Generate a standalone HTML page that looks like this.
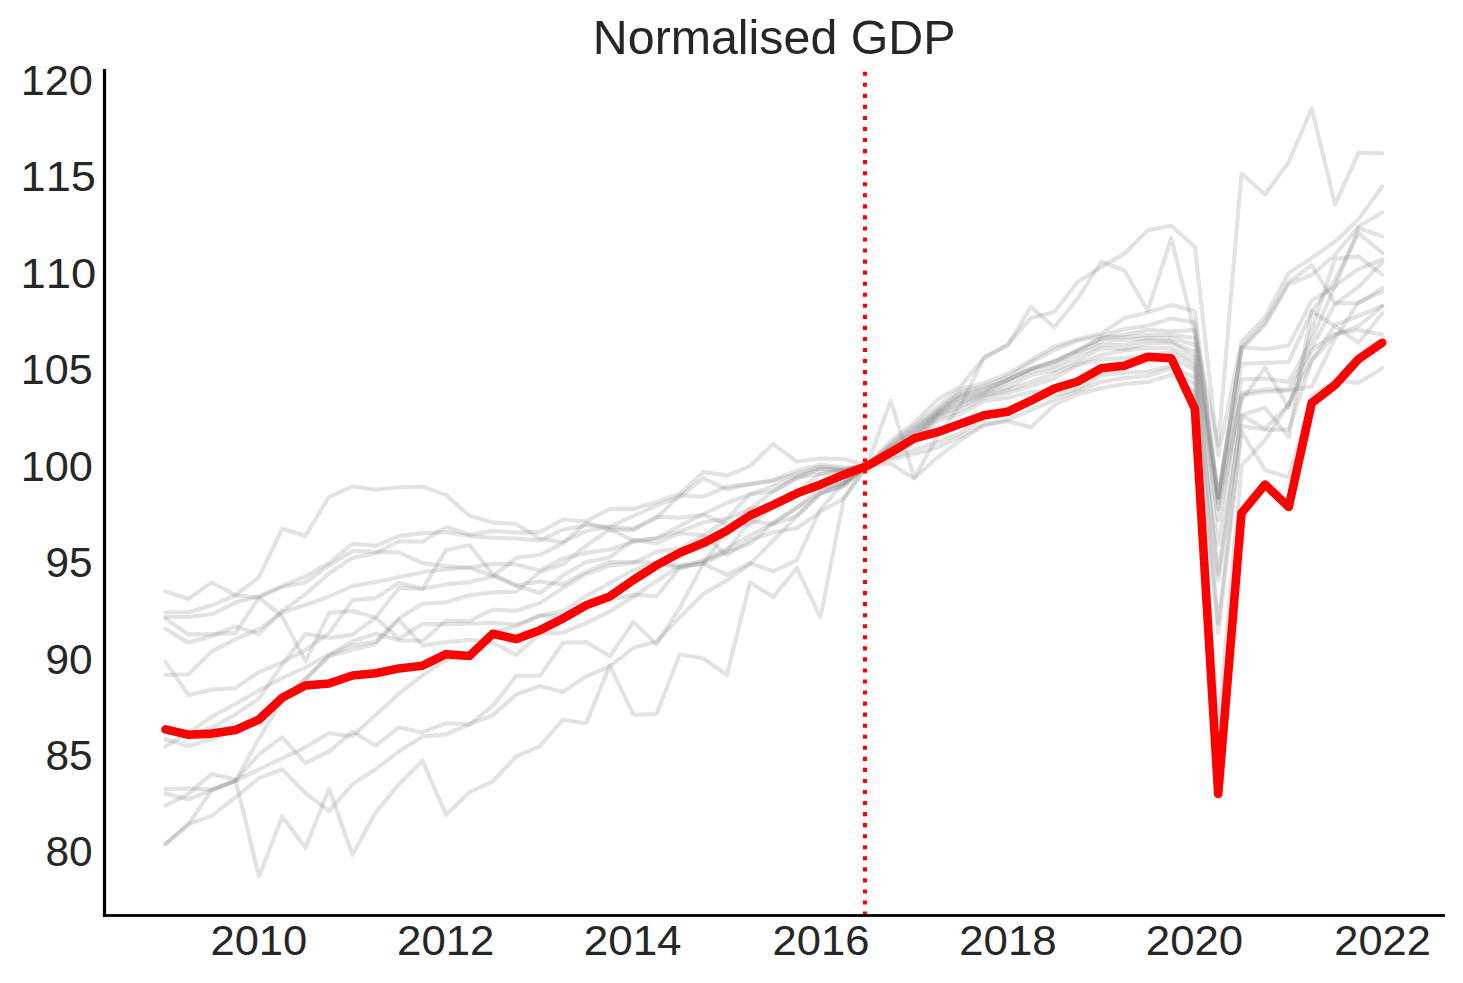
<!DOCTYPE html>
<html><head><meta charset="utf-8"><title>Normalised GDP</title><style>html,body{margin:0;padding:0;background:#fff;overflow:hidden;width:1463px;height:983px;}svg{display:block;}</style></head><body>
<svg width="1463" height="983" viewBox="0 0 1463 983">
<rect width="1463" height="983" fill="#fff"/>
<g fill="none" stroke="#808080" stroke-opacity="0.22" stroke-width="4.1" stroke-linejoin="round" stroke-linecap="round">
<polyline points="165.5,591.4 188.5,599.0 211.8,582.2 235.4,595.4 259.0,597.5 282.1,616.4 305.4,661.4 329.0,612.9 352.5,611.0 375.6,617.6 398.9,638.8 422.5,624.1 446.1,624.1 469.4,623.8 492.7,622.7 516.3,624.8 539.9,615.4 562.9,611.5 586.2,596.0 609.8,583.0 633.4,570.2 656.5,562.9 679.8,565.8 703.4,560.2 726.9,549.0 750.0,535.4 773.3,523.0 796.9,507.7 820.5,488.2 843.8,483.0 867.1,465.5 890.7,400.6 914.3,477.7 937.3,437.0 960.6,405.0 984.2,357.1 1007.8,345.5 1030.9,306.8 1054.2,327.3 1077.8,298.5 1101.3,261.5 1124.4,270.5 1147.7,310.8 1171.3,238.0 1194.9,334.0 1218.2,445.6 1241.5,173.4 1265.1,194.5 1288.7,162.0 1311.7,108.3 1335.0,204.6 1358.6,152.6 1382.2,153.2"/>
<polyline points="165.5,612.5 188.5,612.2 211.8,605.4 235.4,595.4 259.0,577.1 282.1,528.8 305.4,535.8 329.0,496.9 352.5,486.5 375.6,489.8 398.9,487.3 422.5,486.8 446.1,494.9 469.4,515.8 492.7,522.4 516.3,523.9 539.9,538.7 562.9,542.3 586.2,530.9 609.8,526.8 633.4,515.8 656.5,505.7 679.8,496.6 703.4,478.3 726.9,489.3 750.0,484.1 773.3,481.0 796.9,473.8 820.5,466.7 843.8,468.7 867.1,465.5 890.7,441.0 914.3,423.0 937.3,399.8 960.6,386.4 984.2,357.8 1007.8,344.4 1030.9,318.0 1054.2,311.9 1077.8,281.7 1101.3,267.0 1124.4,253.7 1147.7,230.2 1171.3,225.7 1194.9,247.0 1218.2,455.6 1241.5,341.6 1265.1,317.1 1288.7,272.9 1311.7,258.1 1335.0,241.8 1358.6,219.1 1382.2,186.5"/>
<polyline points="165.5,617.0 188.5,617.0 211.8,614.3 235.4,602.6 259.0,596.4 282.1,586.0 305.4,576.4 329.0,563.0 352.5,543.8 375.6,545.8 398.9,536.1 422.5,533.1 446.1,532.1 469.4,536.1 492.7,537.7 516.3,538.5 539.9,540.5 562.9,529.7 586.2,525.2 609.8,526.8 633.4,528.6 656.5,516.7 679.8,517.7 703.4,514.9 726.9,524.1 750.0,525.1 773.3,506.6 796.9,491.3 820.5,488.2 843.8,483.0 867.1,465.5 890.7,444.0 914.3,426.0 937.3,407.0 960.6,389.0 984.2,383.0 1007.8,374.0 1030.9,360.0 1054.2,346.6 1077.8,339.2 1101.3,333.6 1124.4,318.0 1147.7,312.4 1171.3,305.1 1194.9,311.3 1218.2,496.9 1241.5,347.0 1265.1,322.0 1288.7,282.0 1311.7,265.3 1335.0,303.3 1358.6,303.3 1382.2,288.1"/>
<polyline points="165.5,618.6 188.5,634.6 211.8,634.1 235.4,633.1 259.0,597.5 282.1,587.0 305.4,582.5 329.0,565.4 352.5,550.9 375.6,551.9 398.9,552.4 422.5,563.1 446.1,566.1 469.4,567.8 492.7,575.8 516.3,585.6 539.9,581.5 562.9,584.6 586.2,571.6 609.8,562.0 633.4,562.0 656.5,563.0 679.8,568.0 703.4,561.3 726.9,551.0 750.0,521.0 773.3,524.1 796.9,515.9 820.5,493.3 843.8,486.0 867.1,465.5 890.7,445.5 914.3,428.0 937.3,410.0 960.6,392.5 984.2,385.9 1007.8,377.0 1030.9,362.5 1054.2,350.0 1077.8,340.5 1101.3,336.0 1124.4,329.2 1147.7,325.8 1171.3,318.5 1194.9,322.5 1218.2,497.5 1241.5,347.3 1265.1,349.2 1288.7,345.5 1311.7,300.4 1335.0,286.8 1358.6,228.0 1382.2,236.3"/>
<polyline points="165.5,629.0 188.5,642.7 211.8,636.0 235.4,626.5 259.0,634.1 282.1,611.0 305.4,594.4 329.0,573.5 352.5,557.8 375.6,553.4 398.9,541.2 422.5,541.7 446.1,527.0 469.4,534.6 492.7,531.0 516.3,532.6 539.9,532.1 562.9,519.5 586.2,521.2 609.8,508.9 633.4,508.9 656.5,502.0 679.8,493.9 703.4,471.9 726.9,475.6 750.0,466.1 773.3,444.1 796.9,461.5 820.5,458.5 843.8,459.0 867.1,465.5 890.7,447.0 914.3,430.0 937.3,411.5 960.6,394.0 984.2,388.0 1007.8,379.6 1030.9,368.6 1054.2,361.3 1077.8,350.3 1101.3,338.1 1124.4,334.8 1147.7,330.0 1171.3,331.4 1194.9,330.0 1218.2,498.0 1241.5,349.0 1265.1,325.0 1288.7,284.0 1311.7,275.0 1335.0,255.0 1358.6,226.5 1382.2,212.5"/>
<polyline points="165.5,661.8 188.5,695.2 211.8,689.5 235.4,688.1 259.0,671.8 282.1,662.6 305.4,650.0 329.0,633.1 352.5,600.1 375.6,598.1 398.9,582.9 422.5,588.5 446.1,584.4 469.4,582.2 492.7,576.7 516.3,557.6 539.9,554.8 562.9,543.1 586.2,522.8 609.8,529.5 633.4,540.5 656.5,538.2 679.8,525.9 703.4,514.0 726.9,503.0 750.0,494.3 773.3,486.1 796.9,475.9 820.5,468.7 843.8,470.8 867.1,465.5 890.7,448.0 914.3,431.6 937.3,412.5 960.6,396.2 984.2,390.0 1007.8,379.6 1030.9,368.6 1054.2,361.3 1077.8,350.3 1101.3,338.1 1124.4,337.0 1147.7,335.0 1171.3,335.0 1194.9,338.0 1218.2,498.5 1241.5,363.8 1265.1,362.9 1288.7,362.0 1311.7,311.4 1335.0,280.0 1358.6,233.2 1382.2,252.8"/>
<polyline points="165.5,674.8 188.5,674.3 211.8,651.4 235.4,639.2 259.0,629.0 282.1,612.5 305.4,604.9 329.0,596.5 352.5,586.0 375.6,581.9 398.9,577.3 422.5,572.2 446.1,569.2 469.4,567.5 492.7,563.7 516.3,564.4 539.9,570.5 562.9,558.6 586.2,552.9 609.8,549.5 633.4,542.0 656.5,538.2 679.8,531.4 703.4,522.3 726.9,518.6 750.0,494.3 773.3,491.3 796.9,477.9 820.5,473.8 843.8,470.0 867.1,465.5 890.7,449.0 914.3,433.0 937.3,413.5 960.6,398.0 984.2,392.0 1007.8,380.5 1030.9,369.5 1054.2,362.3 1077.8,351.3 1101.3,341.5 1124.4,340.0 1147.7,338.1 1171.3,338.0 1194.9,345.0 1218.2,503.0 1241.5,379.4 1265.1,378.5 1288.7,382.1 1311.7,340.0 1335.0,285.8 1358.6,269.0 1382.2,259.5"/>
<polyline points="165.5,739.2 188.5,746.0 211.8,739.4 235.4,730.0 259.0,718.0 282.1,699.0 305.4,679.4 329.0,655.6 352.5,645.4 375.6,641.7 398.9,618.3 422.5,603.7 446.1,602.2 469.4,595.2 492.7,592.4 516.3,591.7 539.9,572.0 562.9,564.3 586.2,545.6 609.8,529.5 633.4,530.0 656.5,518.0 679.8,495.2 703.4,496.6 726.9,486.6 750.0,484.1 773.3,480.0 796.9,470.8 820.5,464.6 843.8,467.7 867.1,465.5 890.7,450.0 914.3,435.0 937.3,414.5 960.6,401.0 984.2,393.2 1007.8,383.2 1030.9,371.0 1054.2,366.2 1077.8,355.2 1101.3,345.0 1124.4,345.0 1147.7,340.0 1171.3,341.5 1194.9,352.0 1218.2,509.7 1241.5,393.1 1265.1,389.5 1288.7,389.5 1311.7,348.0 1335.0,304.1 1358.6,286.8 1382.2,262.6"/>
<polyline points="165.5,729.0 188.5,734.0 211.8,727.6 235.4,714.4 259.0,698.5 282.1,664.8 305.4,633.7 329.0,638.1 352.5,634.6 375.6,617.6 398.9,588.0 422.5,589.0 446.1,549.9 469.4,545.3 492.7,574.0 516.3,585.6 539.9,593.1 562.9,575.5 586.2,561.9 609.8,557.4 633.4,540.0 656.5,543.2 679.8,533.2 703.4,535.1 726.9,555.0 750.0,540.0 773.3,532.3 796.9,528.2 820.5,511.8 843.8,498.4 867.1,465.5 890.7,451.0 914.3,437.0 937.3,415.5 960.6,403.5 984.2,394.5 1007.8,388.0 1030.9,375.0 1054.2,370.0 1077.8,360.0 1101.3,348.2 1124.4,349.3 1147.7,343.7 1171.3,342.6 1194.9,357.0 1218.2,520.0 1241.5,395.0 1265.1,392.0 1288.7,390.4 1311.7,386.5 1335.0,338.9 1358.6,302.0 1382.2,291.9"/>
<polyline points="165.5,746.6 188.5,733.0 211.8,716.6 235.4,704.0 259.0,690.4 282.1,678.1 305.4,667.5 329.0,654.2 352.5,641.5 375.6,633.7 398.9,640.2 422.5,641.0 446.1,620.5 469.4,621.2 492.7,609.5 516.3,610.8 539.9,603.1 562.9,587.9 586.2,574.1 609.8,565.6 633.4,562.9 656.5,551.9 679.8,548.5 703.4,536.0 726.9,519.5 750.0,508.7 773.3,506.6 796.9,491.3 820.5,473.8 843.8,470.8 867.1,465.5 890.7,452.0 914.3,438.0 937.3,416.5 960.6,406.0 984.2,396.0 1007.8,390.0 1030.9,382.0 1054.2,373.5 1077.8,363.7 1101.3,355.0 1124.4,350.4 1147.7,348.0 1171.3,348.0 1194.9,362.0 1218.2,545.0 1241.5,400.5 1265.1,367.5 1288.7,407.8 1311.7,330.0 1335.0,258.9 1358.6,256.4 1382.2,274.7"/>
<polyline points="165.5,844.0 188.5,824.1 211.8,789.8 235.4,780.9 259.0,738.6 282.1,700.0 305.4,679.0 329.0,656.0 352.5,649.7 375.6,643.9 398.9,619.8 422.5,645.4 446.1,642.2 469.4,639.7 492.7,642.7 516.3,654.9 539.9,633.6 562.9,632.7 586.2,622.9 609.8,611.4 633.4,596.8 656.5,581.2 679.8,566.0 703.4,563.6 726.9,552.0 750.0,543.6 773.3,523.0 796.9,507.7 820.5,493.3 843.8,486.0 867.1,465.5 890.7,454.0 914.3,440.0 937.3,418.0 960.6,410.0 984.2,398.0 1007.8,393.0 1030.9,386.0 1054.2,378.4 1077.8,365.0 1101.3,359.4 1124.4,358.0 1147.7,355.0 1171.3,352.0 1194.9,366.0 1218.2,574.4 1241.5,415.1 1265.1,407.8 1288.7,437.1 1311.7,311.0 1335.0,326.2 1358.6,342.7 1382.2,313.5"/>
<polyline points="165.5,789.1 188.5,788.4 211.8,789.8 235.4,780.9 259.0,754.4 282.1,737.1 305.4,763.1 329.0,751.3 352.5,731.8 375.6,745.6 398.9,727.3 422.5,732.4 446.1,723.2 469.4,724.3 492.7,705.9 516.3,675.8 539.9,675.8 562.9,642.8 586.2,642.1 609.8,656.3 633.4,622.1 656.5,644.2 679.8,607.7 703.4,563.6 726.9,530.0 750.0,508.7 773.3,491.3 796.9,477.9 820.5,468.7 843.8,470.0 867.1,465.5 890.7,456.3 914.3,442.0 937.3,421.0 960.6,414.0 984.2,401.0 1007.8,398.0 1030.9,392.0 1054.2,389.3 1077.8,378.4 1101.3,367.2 1124.4,365.0 1147.7,362.0 1171.3,358.0 1194.9,370.0 1218.2,580.5 1241.5,415.4 1265.1,428.8 1288.7,404.4 1311.7,350.0 1335.0,333.8 1358.6,330.0 1382.2,334.5"/>
<polyline points="165.5,793.6 188.5,799.4 211.8,789.8 235.4,780.9 259.0,769.4 282.1,758.4 305.4,747.3 329.0,733.2 352.5,736.3 375.6,715.1 398.9,693.7 422.5,675.4 446.1,659.7 469.4,652.0 492.7,633.0 516.3,626.0 539.9,615.8 562.9,616.4 586.2,605.0 609.8,599.5 633.4,594.9 656.5,596.3 679.8,568.0 703.4,563.6 726.9,574.8 750.0,563.1 773.3,571.3 796.9,560.0 820.5,509.0 843.8,483.0 867.1,465.5 890.7,457.6 914.3,449.9 937.3,442.2 960.6,432.8 984.2,418.0 1007.8,412.0 1030.9,401.6 1054.2,395.4 1077.8,389.3 1101.3,375.0 1124.4,372.8 1147.7,371.7 1171.3,365.6 1194.9,378.0 1218.2,623.2 1241.5,426.1 1265.1,429.8 1288.7,429.8 1311.7,360.9 1335.0,324.9 1358.6,316.0 1382.2,305.9"/>
<polyline points="165.5,805.6 188.5,793.9 211.8,774.0 235.4,779.5 259.0,876.6 282.1,816.4 305.4,847.5 329.0,788.7 352.5,855.0 375.6,812.6 398.9,784.2 422.5,760.7 446.1,814.8 469.4,792.2 492.7,781.5 516.3,756.3 539.9,746.4 562.9,719.7 586.2,723.3 609.8,665.6 633.4,714.7 656.5,714.0 679.8,654.2 703.4,658.5 726.9,675.0 750.0,582.5 773.3,596.9 796.9,568.2 820.5,617.4 843.8,498.4 867.1,465.5 890.7,459.3 914.3,454.2 937.3,447.4 960.6,436.4 984.2,424.2 1007.8,419.9 1030.9,410.0 1054.2,400.0 1077.8,390.8 1101.3,382.0 1124.4,378.0 1147.7,376.0 1171.3,368.3 1194.9,385.0 1218.2,633.3 1241.5,431.6 1265.1,470.1 1288.7,477.4 1311.7,396.0 1335.0,381.0 1358.6,382.8 1382.2,368.2"/>
<polyline points="165.5,844.0 188.5,824.1 211.8,815.9 235.4,797.4 259.0,778.1 282.1,769.4 305.4,793.1 329.0,811.2 352.5,784.0 375.6,769.2 398.9,751.4 422.5,736.5 446.1,734.4 469.4,724.3 492.7,715.1 516.3,694.5 539.9,686.1 562.9,691.9 586.2,676.3 609.8,666.3 633.4,647.8 656.5,641.4 679.8,617.3 703.4,593.8 726.9,580.4 750.0,564.1 773.3,540.5 796.9,515.9 820.5,493.3 843.8,483.0 867.1,465.5 890.7,463.5 914.3,478.5 937.3,457.6 960.6,440.0 984.2,425.5 1007.8,421.0 1030.9,427.2 1054.2,405.2 1077.8,394.2 1101.3,388.0 1124.4,384.0 1147.7,382.0 1171.3,375.0 1194.9,392.0 1218.2,730.0 1241.5,465.4 1265.1,440.0 1288.7,404.4 1311.7,360.5 1335.0,335.2 1358.6,326.0 1382.2,306.5"/>
</g>
<polyline fill="none" stroke="#ff0000" stroke-width="8.6" stroke-linejoin="round" stroke-linecap="round" points="165.5,729.4 188.5,734.8 211.8,733.6 235.4,730.0 259.0,719.5 282.1,697.8 305.4,685.5 329.0,683.5 352.5,675.5 375.6,673.3 398.9,668.4 422.5,665.7 446.1,654.2 469.4,656.0 492.7,633.8 516.3,639.1 539.9,630.2 562.9,618.6 586.2,605.3 609.8,596.4 633.4,580.0 656.5,565.3 679.8,552.8 703.4,543.1 726.9,530.6 750.0,515.5 773.3,504.9 796.9,493.3 820.5,484.4 843.8,474.7 867.1,465.9 890.7,452.6 914.3,438.4 937.3,432.2 960.6,423.8 984.2,415.3 1007.8,411.7 1030.9,400.7 1054.2,388.6 1077.8,381.5 1101.3,368.3 1124.4,365.8 1147.7,356.7 1171.3,358.2 1194.9,409.0 1218.2,794.0 1241.5,513.0 1265.1,484.5 1288.7,507.0 1311.7,403.0 1335.0,385.0 1358.6,359.0 1382.2,342.8"/>
<line x1="864.95" y1="71.7" x2="864.95" y2="915" stroke="#ff0000" stroke-width="4.1" stroke-dasharray="4.1 6.95"/>
<rect x="102.9" y="69" width="3.2" height="847.8" fill="#000"/>
<rect x="102.9" y="914.1" width="1342" height="2.8" fill="#000"/>
<text transform="translate(20.71 94.85) scale(1.0308 1)" font-size="42" font-family="Liberation Sans, sans-serif" fill="#262626" style="font-kerning:none">120</text>
<text transform="translate(20.57 191.30) scale(1.0758 1)" font-size="42" font-family="Liberation Sans, sans-serif" fill="#262626" style="font-kerning:none">115</text>
<text transform="translate(20.56 287.75) scale(1.0806 1)" font-size="42" font-family="Liberation Sans, sans-serif" fill="#262626" style="font-kerning:none">110</text>
<text transform="translate(20.72 384.20) scale(1.0262 1)" font-size="42" font-family="Liberation Sans, sans-serif" fill="#262626" style="font-kerning:none">105</text>
<text transform="translate(20.71 480.65) scale(1.0308 1)" font-size="42" font-family="Liberation Sans, sans-serif" fill="#262626" style="font-kerning:none">100</text>
<text transform="translate(45.38 577.10) scale(1.0093 1)" font-size="42" font-family="Liberation Sans, sans-serif" fill="#262626" style="font-kerning:none">95</text>
<text transform="translate(45.38 673.55) scale(1.0093 1)" font-size="42" font-family="Liberation Sans, sans-serif" fill="#262626" style="font-kerning:none">90</text>
<text transform="translate(45.38 770.00) scale(1.0093 1)" font-size="42" font-family="Liberation Sans, sans-serif" fill="#262626" style="font-kerning:none">85</text>
<text transform="translate(45.38 866.45) scale(1.0093 1)" font-size="42" font-family="Liberation Sans, sans-serif" fill="#262626" style="font-kerning:none">80</text>
<text transform="translate(210.43 955.20) scale(1.0367 1)" font-size="42" font-family="Liberation Sans, sans-serif" fill="#262626" style="font-kerning:none">2010</text>
<text transform="translate(397.12 955.20) scale(1.0416 1)" font-size="42" font-family="Liberation Sans, sans-serif" fill="#262626" style="font-kerning:none">2012</text>
<text transform="translate(583.70 955.20) scale(1.0478 1)" font-size="42" font-family="Liberation Sans, sans-serif" fill="#262626" style="font-kerning:none">2014</text>
<text transform="translate(772.52 955.20) scale(1.0389 1)" font-size="42" font-family="Liberation Sans, sans-serif" fill="#262626" style="font-kerning:none">2016</text>
<text transform="translate(959.21 955.20) scale(1.0433 1)" font-size="42" font-family="Liberation Sans, sans-serif" fill="#262626" style="font-kerning:none">2018</text>
<text transform="translate(1145.82 955.20) scale(1.0411 1)" font-size="42" font-family="Liberation Sans, sans-serif" fill="#262626" style="font-kerning:none">2020</text>
<text transform="translate(1334.33 955.20) scale(1.0326 1)" font-size="42" font-family="Liberation Sans, sans-serif" fill="#262626" style="font-kerning:none">2022</text>
<text transform="translate(592.87 54.00) scale(1.0071 1)" font-size="48" font-family="Liberation Sans, sans-serif" fill="#262626" style="font-kerning:none">Normalised GDP</text>
</svg>
</body></html>
